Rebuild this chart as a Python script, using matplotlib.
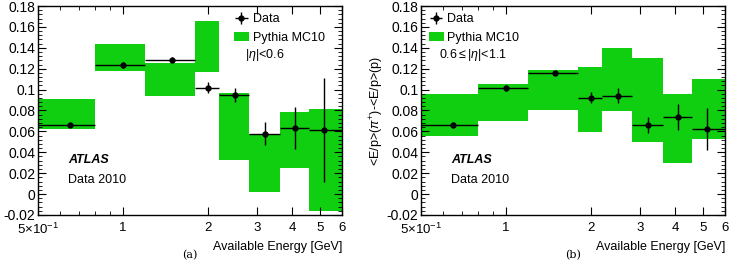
import numpy as np
import matplotlib
matplotlib.use("Agg")
import matplotlib.pyplot as plt
from matplotlib.ticker import FixedLocator, AutoMinorLocator, NullFormatter
from matplotlib.transforms import ScaledTranslation

plt.rcParams["font.family"] = ["Liberation Sans", "DejaVu Sans"]
plt.rcParams["mathtext.fontset"] = "custom"
plt.rcParams["mathtext.rm"] = "Liberation Sans"
plt.rcParams["mathtext.it"] = "Liberation Sans:italic"

# bin edges (GeV) and data point positions
edges = [0.5, 0.8, 1.2, 1.8, 2.2, 2.8, 3.6, 4.6, 6.0]
x_pts = [0.65, 1.0, 1.5, 2.0, 2.5, 3.2, 4.1, 5.2]

# panel (a) |eta| < 0.6
data_a = [0.066, 0.1235, 0.128, 0.102, 0.0948, 0.0578, 0.0629, 0.0613]
err_a = [0.002, 0.003, 0.003, 0.0057, 0.007, 0.011, 0.020, 0.050]
mc_lo_a = [0.062, 0.1175, 0.094, 0.1168, 0.0326, 0.0023, 0.0253, -0.0159]
mc_hi_a = [0.091, 0.144, 0.1258, 0.1653, 0.0967, 0.0572, 0.0786, 0.0814]

# panel (b) 0.6 <= |eta| < 1.1
data_b = [0.0661, 0.1012, 0.1156, 0.0923, 0.0942, 0.0661, 0.0741, 0.062]
err_b = [0.003, 0.003, 0.002, 0.0056, 0.007, 0.008, 0.0125, 0.020]
mc_lo_b = [0.0556, 0.070, 0.0805, 0.0591, 0.0795, 0.0495, 0.0294, 0.0527]
mc_hi_b = [0.0955, 0.1054, 0.1188, 0.1213, 0.1395, 0.1299, 0.0955, 0.1098]

green = "#10cf10"
W, H = 731, 270
fig = plt.figure(figsize=(W / 100, H / 100), dpi=100)
legend_x = {"(a)": 0.62, "(b)": 0.0}


def panel(left, data, err, lo, hi, eta_txt, caption):
    ax = fig.add_axes([left / W, 1 - 215 / H, 304 / W, 209 / H])
    e = np.array(edges)
    xp = np.array(x_pts)
    ax.bar(e[:-1], np.array(hi) - np.array(lo), width=np.diff(e), bottom=lo,
           align="edge", color=green, linewidth=0, label="Pythia MC10")
    ax.errorbar(xp, data, yerr=err, xerr=[xp - e[:-1], e[1:] - xp], fmt="o",
                color="black", ms=3.5, elinewidth=1.0, capsize=0, label="Data")
    ax.set_xscale("log")
    ax.set_xlim(0.5, 6)
    ax.set_ylim(-0.02, 0.18)
    ax.xaxis.set_major_locator(FixedLocator([0.5, 1, 2, 3, 4, 5, 6]))
    ax.xaxis.set_minor_locator(FixedLocator([0.6, 0.7, 0.8, 0.9]))
    ax.xaxis.set_minor_formatter(NullFormatter())
    ax.set_xticklabels(["5$\\times$10$^{-1}$", "1", "2", "3", "4", "5", "6"],
                       fontsize=9.5)
    first = ax.get_xticklabels()[0]
    first.set_transform(first.get_transform() +
                        ScaledTranslation(-0.14, -0.02, fig.dpi_scale_trans))
    yt = np.arange(-0.02, 0.181, 0.02)
    ax.set_yticks(yt)
    ax.set_yticklabels(["%g" % round(v, 2) for v in yt], fontsize=10)
    ax.yaxis.set_minor_locator(AutoMinorLocator(5))
    ax.tick_params(which="both", direction="in", top=True, right=True, pad=2)
    ax.tick_params(which="major", length=6)
    ax.tick_params(which="minor", length=3)
    ax.tick_params(axis="x", which="major", pad=5)
    ax.set_xlabel("Available Energy [GeV]", fontsize=9, loc="right", labelpad=3)
    ax.set_ylabel("<E/p>($\\pi^{+}$)-<E/p>(p)", fontsize=9)
    ax.yaxis.set_label_coords(-0.115, 0.5)
    for s in ax.spines.values():
        s.set_linewidth(1.0)

    h, l = ax.get_legend_handles_labels()
    ax.legend(h[::-1], l[::-1], loc="upper left", frameon=False, fontsize=9,
              handlelength=1.2, handletextpad=0.3, labelspacing=0.5,
              borderaxespad=0.2, bbox_to_anchor=(legend_x[caption], 1.0))
    ax.text(legend_x[caption] + 0.06, 0.766, eta_txt, transform=ax.transAxes,
            fontsize=9, va="center")
    ax.text(0.1, 0.263, "ATLAS", transform=ax.transAxes, fontsize=9,
            fontweight="bold", style="italic", va="center")
    ax.text(0.1, 0.167, "Data 2010", transform=ax.transAxes, fontsize=9,
            va="center")
    fig.text((left + 152) / W, 1 - 255 / H, caption, family="DejaVu Serif",
             fontsize=8, ha="center", va="center")
    return ax


panel(38, data_a, err_a, mc_lo_a, mc_hi_a, "|$\\eta$|<0.6", "(a)")
panel(421, data_b, err_b, mc_lo_b, mc_hi_b, "0.6$\\leq$|$\\eta$|<1.1", "(b)")

fig.savefig("out.png", dpi=100)
